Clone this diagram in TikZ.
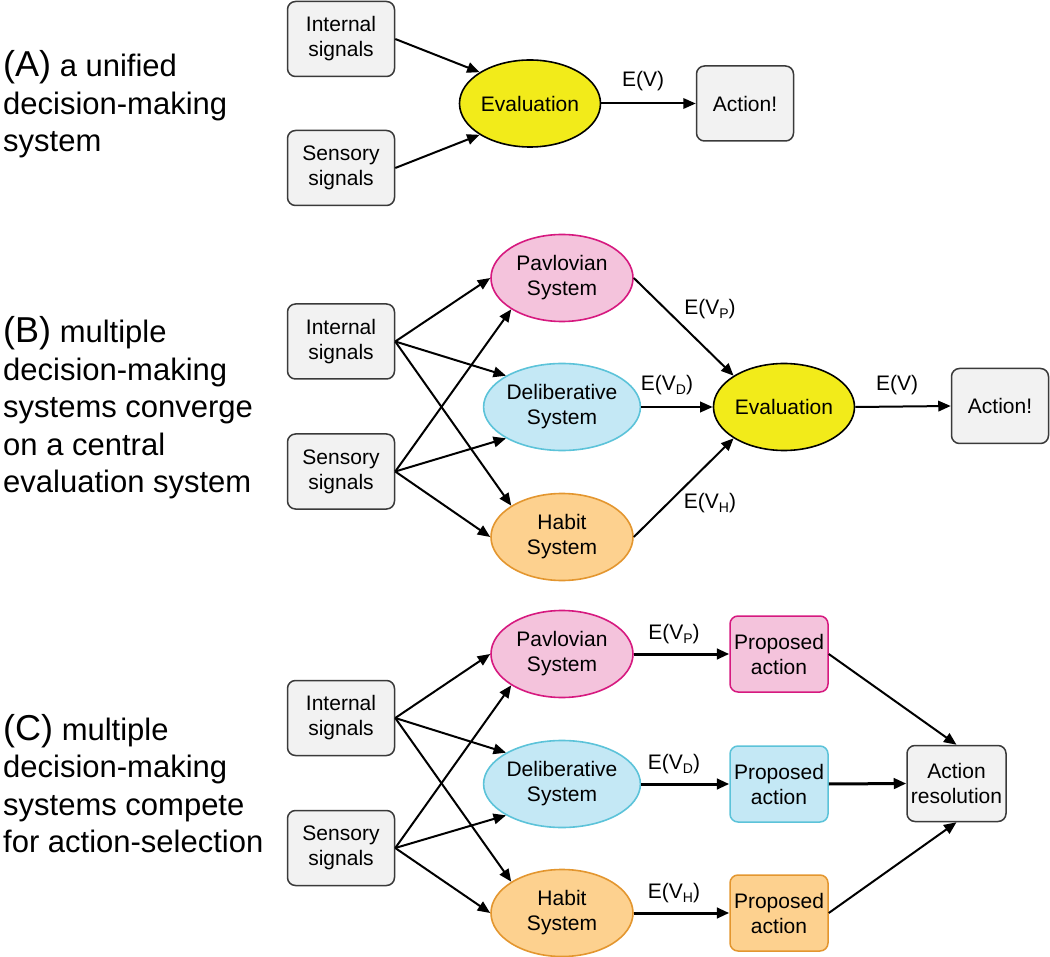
\documentclass[tikz,border=0pt]{standalone}
\usepackage{fontspec}
\setmainfont{Liberation Sans}
\usetikzlibrary{arrows.meta,shapes.geometric}
\definecolor{boxfill}{HTML}{F2F2F2}
\definecolor{boxdraw}{HTML}{3A3A3A}
\definecolor{evalfill}{HTML}{F2EB1A}
\definecolor{pavfill}{HTML}{F4C3DC}
\definecolor{pavdraw}{HTML}{D6197F}
\definecolor{delfill}{HTML}{C4E8F5}
\definecolor{deldraw}{HTML}{5CC3D9}
\definecolor{habfill}{HTML}{FDD18F}
\definecolor{habdraw}{HTML}{E3962F}
\newcommand\mysub[1]{\raisebox{-4.5pt}{\fontsize{14}{14}\selectfont #1}}
\begin{document}
\begin{tikzpicture}[x=1pt,y=-1pt,
  nodefont/.style={font=\fontsize{21}{25}\selectfont},
  greybox/.style={draw=boxdraw, fill=boxfill, line width=1.5pt, rounded corners=8pt,
    minimum height=75pt, align=center, inner sep=2pt, nodefont},
  sigbox/.style={greybox, minimum width=107pt},
  actbox/.style={greybox, minimum width=97pt},
  propbox/.style={line width=1.5pt, rounded corners=8pt, minimum width=98pt,
    minimum height=76pt, align=center, inner sep=1pt, nodefont},
  sysnode/.style={ellipse, line width=1.6pt, minimum width=142pt, minimum height=87pt,
    inner sep=0pt, align=center, nodefont},
  evalnode/.style={sysnode, draw=black, fill=evalfill, minimum width=141pt},
  pavnode/.style={sysnode, draw=pavdraw, fill=pavfill},
  delnode/.style={sysnode, draw=deldraw, fill=delfill},
  habnode/.style={sysnode, draw=habdraw, fill=habfill},
  arr/.style={line width=2pt, -{Triangle[length=12.5pt,width=10.5pt]}},
  thickarr/.style={line width=3pt, -{Triangle[length=12.5pt,width=10.5pt]}},
  lab/.style={nodefont, inner sep=0pt},
  lefttext/.style={font=\fontsize{31}{37}\selectfont, anchor=base west, inner sep=0pt}
]
\useasboundingbox (0,0) rectangle (1050,957);

% ---------- Panel A ----------
\node[lefttext] (tA1) at (3,77) {{\fontsize{36}{36}\selectfont(A)} a unified};
\node[lefttext] (tA2) at (3,114.5) {decision-making};
\node[lefttext] (tA3) at (3,152) {system};

\node[sigbox] (a-int) at (341,39) {Internal\\signals};
\node[sigbox] (a-sen) at (341,168) {Sensory\\signals};
\node[evalnode] (a-eval) at (530,103.5) {Evaluation};
\node[actbox] (a-act) at (745,103.5) {Action!};
\node[lab] (a-lv) at (643,81) {E(V)};

\draw[arr] (a-int.east) -- (a-eval.north west);
\draw[arr] (a-sen.east) -- (a-eval.south west);
\draw[arr] (a-eval.east) -- (a-act.west);

% ---------- Panel B ----------
\node[lefttext] (tB1) at (3,343) {{\fontsize{36}{36}\selectfont(B)} multiple};
\node[lefttext] (tB2) at (3,380.5) {decision-making};
\node[lefttext] (tB3) at (3,418) {systems converge};
\node[lefttext] (tB4) at (3,455.5) {on a central};
\node[lefttext] (tB5) at (3,493) {evaluation system};

\node[sigbox] (b-int) at (341,341.5) {Internal\\signals};
\node[sigbox] (b-sen) at (341,471.5) {Sensory\\signals};
\node[pavnode] (b-pav) at (562,278) {Pavlovian\\System};
\node[delnode] (b-del) at (562,407) {Deliberative\\System};
\node[habnode] (b-hab) at (562,537) {Habit\\System};
\node[evalnode] (b-eval) at (784,407) {Evaluation};
\node[actbox] (b-act) at (1000,406) {Action!};

\node[lab] (b-lp) at (710,309) {E(V\mysub{P})};
\node[lab] (b-ld) at (667,385) {E(V\mysub{D})};
\node[lab] (b-lh) at (710,503) {E(V\mysub{H})};
\node[lab] (b-lv) at (897,385) {E(V)};

\draw[arr] (b-int.east) -- (b-pav.west);
\draw[arr] (b-int.east) -- (b-del.north west);
\draw[arr] (b-int.east) -- (b-hab.north west);
\draw[arr] (b-sen.east) -- (b-pav.south west);
\draw[arr] (b-sen.east) -- (b-del.south west);
\draw[arr] (b-sen.east) -- (b-hab.west);
\draw[arr] (b-pav.east) -- (b-eval.north west);
\draw[arr] (b-del.east) -- (b-eval.west);
\draw[arr] (b-hab.east) -- (b-eval.south west);
\draw[arr] (b-eval.east) -- (b-act.west);

% ---------- Panel C ----------
\node[lefttext] (tC1) at (3,740) {{\fontsize{36}{36}\selectfont(C)} multiple};
\node[lefttext] (tC2) at (3,777.5) {decision-making};
\node[lefttext] (tC3) at (3,815) {systems compete};
\node[lefttext] (tC4) at (3,852.5) {for action-selection};

\node[sigbox] (c-int) at (341,718) {Internal\\signals};
\node[sigbox] (c-sen) at (341,848) {Sensory\\signals};
\node[pavnode] (c-pav) at (562,654) {Pavlovian\\System};
\node[delnode] (c-del) at (562,784) {Deliberative\\System};
\node[habnode] (c-hab) at (562,913) {Habit\\System};
\node[propbox, draw=pavdraw, fill=pavfill] (c-pp) at (779,654) {Proposed\\action};
\node[propbox, draw=deldraw, fill=delfill] (c-pd) at (779,784) {Proposed\\action};
\node[propbox, draw=habdraw, fill=habfill] (c-ph) at (779,913) {Proposed\\action};
\node[actbox, minimum width=99pt, minimum height=76pt] (c-res) at (956.5,783.5) {Action\\resolution};

\node[lab] (c-lp) at (674,634) {E(V\mysub{P})};
\node[lab] (c-ld) at (674,764) {E(V\mysub{D})};
\node[lab] (c-lh) at (674,893) {E(V\mysub{H})};

\draw[arr] (c-int.east) -- (c-pav.west);
\draw[arr] (c-int.east) -- (c-del.north west);
\draw[arr] (c-int.east) -- (c-hab.north west);
\draw[arr] (c-sen.east) -- (c-pav.south west);
\draw[arr] (c-sen.east) -- (c-del.south west);
\draw[arr] (c-sen.east) -- (c-hab.west);
\draw[thickarr] (c-pav.east) -- (c-pp.west);
\draw[thickarr] (c-del.east) -- (c-pd.west);
\draw[thickarr] (c-hab.east) -- (c-ph.west);
\draw[arr] (c-pp.east) -- (c-res.north);
\draw[thickarr] (c-pd.east) -- (c-res.west);
\draw[arr] (c-ph.east) -- (c-res.south);
\end{tikzpicture}
\end{document}
